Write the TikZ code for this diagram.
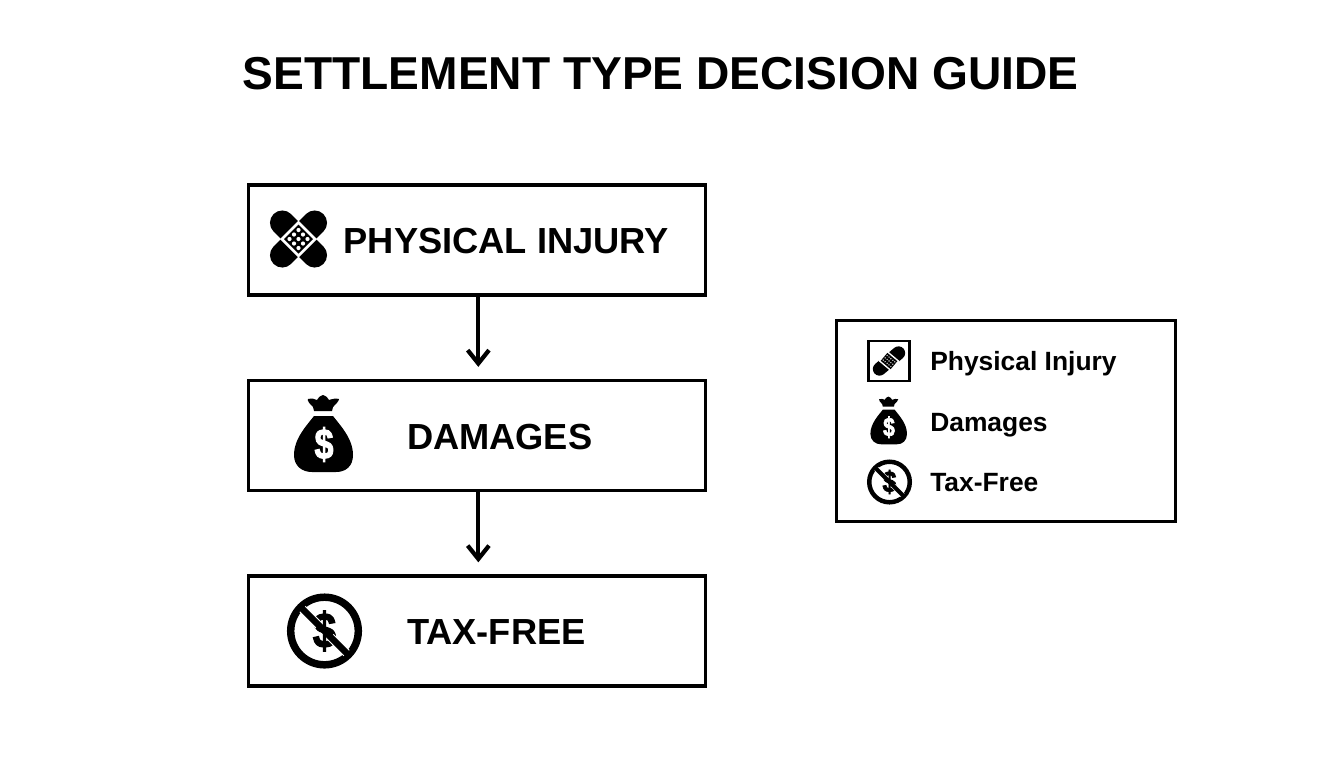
\documentclass[tikz,border=0pt]{standalone}
\usepackage{fontspec}
\setmainfont{Liberation Sans}
\newfontface\dollarface[FakeBold=2.5]{Liberation Sans Bold}
\usetikzlibrary{positioning,arrows.meta}

\tikzset{
    pics/crossplaster/.style={code={
        \draw[line width=18.5pt, line cap=round] (-16.2,-16.2) -- (16.2,16.2);
        \draw[line width=18.5pt, line cap=round] (-16.2,16.2) -- (16.2,-16.2);
        \fill[white] (-18.5,0) -- (0,-18.5) -- (18.5,0) -- (0,18.5) -- cycle;
        \fill[black] (-14.5,0) -- (0,-14.5) -- (14.5,0) -- (0,14.5) -- cycle;
        \foreach \u in {-1,0,1}
            \foreach \v in {-1,0,1}
                \fill[white] ({(\u-\v)*4.5},{(\u+\v)*4.5}) circle (2.1);
    }},
    pics/stripplaster/.style={code={
        \draw[line width=10pt, line cap=round] (-9.5,8) -- (9.5,-8);
        \begin{scope}[rotate=-40]
            \fill[white] (-8,-6.7) rectangle (8,6.7);
            \fill[black] (-6.5,-5.2) rectangle (6.5,5.2);
            \foreach \u in {-5,-2.5,0,2.5,5}
                \foreach \v in {-3,0,3}
                    \fill[white] (\u,\v) circle (.75);
        \end{scope}
    }},
    pics/moneybag/.style={code={
        \begin{scope}[scale=#1]
            \fill (-10,-28) .. controls (-16,-20) and (-30,-6) .. (-30,11)
                .. controls (-30,22) and (-22,28) .. (-12,28) -- (12,28)
                .. controls (22,28) and (29,22) .. (29,11)
                .. controls (29,-6) and (15,-20) .. (9,-28) -- cycle;
            \fill (-10,-33) -- (-11,-37) .. controls (-14,-40) and (-17,-43) .. (-16,-45)
                .. controls (-12,-46) and (-9,-45) .. (-7,-44)
                .. controls (-5,-47) and (-3,-49) .. (-1,-49)
                .. controls (1,-49) and (3,-47) .. (5,-44)
                .. controls (8,-45) and (12,-46) .. (15,-45)
                .. controls (15,-43) and (12,-40) .. (9,-37) -- (8,-33) -- cycle;
            \node[white, xscale=#1*.8, yscale=#1] at (0,0.5) {\fontsize{32}{32}\dollarface\$};
        \end{scope}
    }},
    pics/nodollar/.style={code={
        \begin{scope}[scale=#1]
            \draw[line width=#1*5.6pt] (0,0) circle (33.8);
            \node[xscale=#1*.85, yscale=#1] at (0,0) {\fontsize{37}{37}\dollarface\$};
            \draw[white, line width=#1*6.5pt] (-22,-22) -- (-6,-6);
            \draw[white, line width=#1*6.5pt] (6,6) -- (22,22);
            \draw[line width=#1*5pt] (-25,-25) -- (25,25);
        \end{scope}
    }},
    gde box/.style={draw, rectangle, line width=2.4pt, minimum width=343pt, minimum height=82.5pt},
    gde label/.style={anchor=west, inner sep=0pt, font=\fontsize{27.2}{27}\selectfont\bfseries},
    key label/.style={anchor=west, inner sep=0pt, font=\fontsize{19.8}{20}\selectfont\bfseries},
    gde arrow/.style={line width=3.2pt, shorten >=9pt, -{Straight Barb[length=10pt, width=16pt, line width=3.2pt]}}
}

\begin{document}
\begin{tikzpicture}[x=.75pt, y=-.75pt, node distance=146.6pt]
    \useasboundingbox (0,0) rectangle (1344,768);

    \node[inner sep=0pt, font=\fontsize{34.6}{35}\selectfont\bfseries] (title) at (660.5,74) {SETTLEMENT TYPE DECISION GUIDE};

    \node[gde box] (injury) at (477,240) {};
    \node[gde box, below of=injury] (damages) {};
    \node[gde box, below of=damages] (taxfree) {};

    \node[gde label] (injurytxt) at ([xshift=72.5pt, yshift=-1pt]injury.west) {PHYSICAL INJURY};
    \node[gde label] (damagestxt) at ([xshift=120pt, yshift=-1pt]damages.west) {DAMAGES};
    \node[gde label] (taxfreetxt) at ([xshift=120pt, yshift=-1pt]taxfree.west) {TAX-FREE};

    \pic at (298.5,239) {crossplaster};
    \pic at (324,444) {moneybag=1};
    \pic at (324.5,631) {nodollar=1};

    \draw[gde arrow] ([xshift=1pt]injury.south) -- ([xshift=1pt]damages.north);
    \draw[gde arrow] ([xshift=1pt]damages.south) -- ([xshift=1pt]taxfree.north);

    % legend on the right
    \node[draw, rectangle, line width=1.9pt, minimum width=254.5pt, minimum height=151pt] (legend) at (1006,421) {};
    \node[draw, rectangle, line width=2.2pt, minimum width=31pt, minimum height=30pt] (keyframe) at (889,361) {};
    \pic at (889,361) {stripplaster};
    \pic at (889,427) {moneybag=.62};
    \pic at (889.5,482) {nodollar=.6};

    \node[key label] (keyinjury) at (930,364) {Physical Injury};
    \node[key label] (keydamages) at (930,425) {Damages};
    \node[key label] (keytaxfree) at (930,483) {Tax-Free};
\end{tikzpicture}
\end{document}
